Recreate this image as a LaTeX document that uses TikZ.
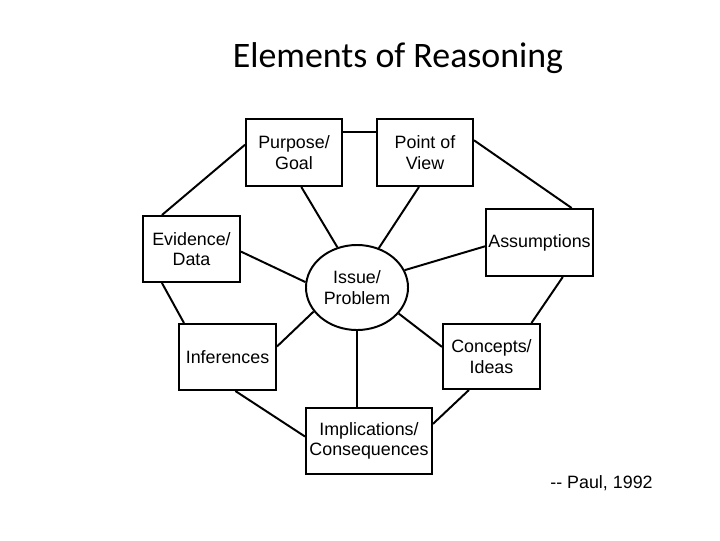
\documentclass[tikz,border=0pt]{standalone}
\usepackage{fontspec}
\setmainfont{Liberation Sans}
\newfontfamily\titlefont{Carlito}
\usetikzlibrary{positioning,shapes}
\tikzstyle{styBox}=[rectangle,draw=black,line width=1.4pt,align=center,inner sep=1pt,text=black,font=\fontsize{12.7}{14.7}\selectfont]
\tikzstyle{styOval}=[styBox,ellipse,inner sep=0pt,minimum width=2.55cm,minimum height=2.125cm]
\tikzstyle{myline}=[line width=1.4pt]

\begin{document}
\begin{tikzpicture}[x=0.025cm,y=-0.025cm]
\useasboundingbox (0,0) rectangle (720,540);

\node[font=\titlefont\fontsize{25.5}{30}\selectfont] (title) at (398,58) {Elements of Reasoning};

% ring of elements
\node[styBox,minimum width=2.4cm,minimum height=1.675cm] (purpose) at (294,152.5) {Purpose/\\Goal};
\node[styBox,minimum width=2.4cm,minimum height=1.675cm] (view) at (425,152.5) {Point of\\View};
\node[styBox,minimum width=2.425cm,minimum height=1.65cm] (evid) at (191.5,249) {Evidence/\\Data};
\node[styBox,minimum width=2.675cm,minimum height=1.675cm] (assum) at (539.5,242.5) {Assumptions};
\node[styBox,minimum width=2.425cm,minimum height=1.65cm] (infer) at (227.5,357) {Inferences};
\node[styBox,minimum width=2.425cm,minimum height=1.625cm] (concep) at (491.5,356.5) {Concepts/\\Ideas};
\node[styBox,minimum width=3.15cm,minimum height=1.65cm] (implic) at (369,441) {Implications/\\Consequences};

% centre
\node[styOval] (issue) at (357,287.5) {Issue/\\Problem};

\node[font=\fontsize{12.7}{14.7}\selectfont] (cite) at (601.5,483) {-{}- Paul, 1992};

% outer ring
\draw[myline] (purpose.23) -- (view.157);
\draw[myline] (view.14.6) -- (assum.47.7);
\draw[myline] (assum.304.7) -- (concep.40.2);
\draw[myline] (concep.236.5) -- (implic.15);
\draw[myline] (implic.176) -- (infer.283);
\draw[myline] (infer.142) -- (evid.229);
\draw[myline] (evid.131.8) -- (purpose.171);

% spokes
\draw[myline] (issue.116.5) -- (purpose.-78);
\draw[myline] (issue.61) -- (view.260);
\draw[myline] (issue.174.6) -- (evid.357);
\draw[myline] (issue.20) -- (assum.184.5);
\draw[myline] (issue.209.8) -- (infer.12);
\draw[myline] (issue.south) -- (issue.south |- implic.north);
\draw[myline] (issue.328) -- (concep.169.7);

\end{tikzpicture}
\end{document}
